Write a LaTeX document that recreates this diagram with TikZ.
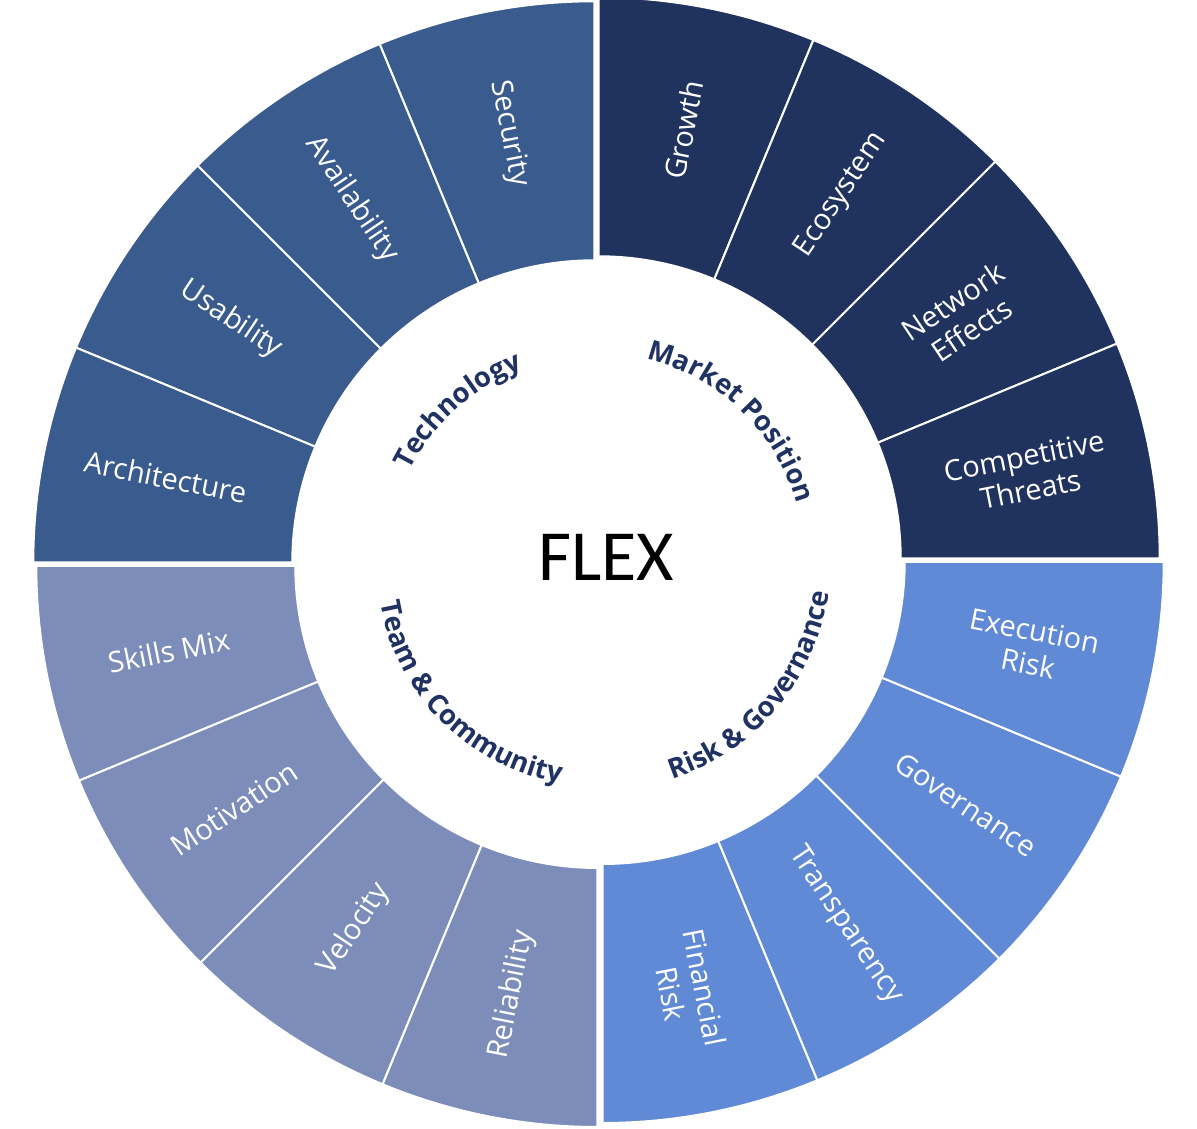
\documentclass[tikz,border=0pt]{standalone}
\usepackage{fontspec}
\setmainfont{Open Sans}
\newfontfamily\flexfont{Carlito}
\usetikzlibrary{decorations.text}
\definecolor{cMarket}{HTML}{20325E}
\definecolor{cTech}{HTML}{3A5B8E}
\definecolor{cTeam}{HTML}{7C8DB9}
\definecolor{cRisk}{HTML}{6089D6}
\definecolor{cLabel}{HTML}{1F3262}
\newcommand\catfont{\bfseries\fontsize{27.5}{32}\selectfont}
\def\rin{302}
\def\rout{561}
\def\rlab{437}
\tikzset{
  seg/.style={fill=#1, draw=white, line width=2pt, line join=round},
  seglabel/.style={text=white, font=\fontsize{29}{34}\selectfont, align=center, inner sep=0pt},
  catlabel/.style={decorate, decoration={text along path, text={|\catfont|#1}, text align=center, text color=cLabel}}
}
\begin{document}
\begin{tikzpicture}[x=1pt,y=1pt]
\useasboundingbox (0,0) rectangle (1197,1129);
% Market Position
\begin{scope}[shift={(598.7,570.7)}]
\foreach \i/\t/\n in {0/Growth/growth, 1/Ecosystem/eco, 2/{Network\\Effects}/net, 3/{Competitive\\Threats}/comp} {
  \pgfmathsetmacro\aa{90-22.5*\i}
  \pgfmathsetmacro\ab{\aa-22.5}
  \pgfmathsetmacro\am{\aa-11.25}
  \path[seg=cMarket] (\aa:\rin) arc[start angle=\aa,end angle=\ab,radius=\rin] -- (\ab:\rout) arc[start angle=\ab,end angle=\aa,radius=\rout] -- cycle;
  \node[seglabel,rotate=\am] (\n) at (\am:\rlab) {\t};
}
\path[catlabel={Market Position}] (93:205) arc[start angle=93,end angle=-1,radius=205];
\end{scope}
% Technology
\begin{scope}[shift={(594.3,566.7)}]
\foreach \i/\t/\n in {0/Security/sec, 1/Availability/avail, 2/Usability/usab, 3/Architecture/arch} {
  \pgfmathsetmacro\aa{90+22.5*\i}
  \pgfmathsetmacro\ab{\aa+22.5}
  \pgfmathsetmacro\am{\aa+11.25}
  \pgfmathsetmacro\rr{\am-180}
  \path[seg=cTech] (\aa:\rin) arc[start angle=\aa,end angle=\ab,radius=\rin] -- (\ab:\rout) arc[start angle=\ab,end angle=\aa,radius=\rout] -- cycle;
  \node[seglabel,rotate=\rr] (\n) at (\am:\rlab) {\t};
}
\path[catlabel={Technology}] (178:206) arc[start angle=178,end angle=86,radius=206];
\end{scope}
% Team & Community
\begin{scope}[shift={(597.3,563)}]
\foreach \i/\t/\n in {0/Skills Mix/skills, 1/Motivation/motiv, 2/Velocity/veloc, 3/Reliability/relia} {
  \pgfmathsetmacro\aa{180+22.5*\i}
  \pgfmathsetmacro\ab{\aa+22.5}
  \pgfmathsetmacro\am{\aa+11.25}
  \pgfmathsetmacro\rr{\am-180}
  \path[seg=cTeam] (\aa:\rin) arc[start angle=\aa,end angle=\ab,radius=\rin] -- (\ab:\rout) arc[start angle=\ab,end angle=\aa,radius=\rout] -- cycle;
  \node[seglabel,rotate=\rr] (\n) at (\am:\rlab) {\t};
}
\path[catlabel={Team {\&} Community}] (177:220) arc[start angle=177,end angle=273,radius=220];
\end{scope}
% Risk & Governance
\begin{scope}[shift={(602.7,567)}]
\foreach \i/\t/\n in {0/{Financial\\Risk}/fin, 1/Transparency/transp, 2/Governance/gov, 3/{Execution\\Risk}/exec} {
  \pgfmathsetmacro\aa{270+22.5*\i}
  \pgfmathsetmacro\ab{\aa+22.5}
  \pgfmathsetmacro\am{\aa+11.25}
  \pgfmathsetmacro\rr{\am-360}
  \path[seg=cRisk] (\aa:\rin) arc[start angle=\aa,end angle=\ab,radius=\rin] -- (\ab:\rout) arc[start angle=\ab,end angle=\aa,radius=\rout] -- cycle;
  \node[seglabel,rotate=\rr] (\n) at (\am:\rlab) {\t};
}
\path[catlabel={Risk {\&} Governance}] (273:228) arc[start angle=273,end angle=367,radius=228];
\end{scope}
\node[inner sep=0pt, font=\flexfont\fontsize{72}{80}\selectfont] (flex) at (606,571.5) {FLEX};
\end{tikzpicture}
\end{document}
